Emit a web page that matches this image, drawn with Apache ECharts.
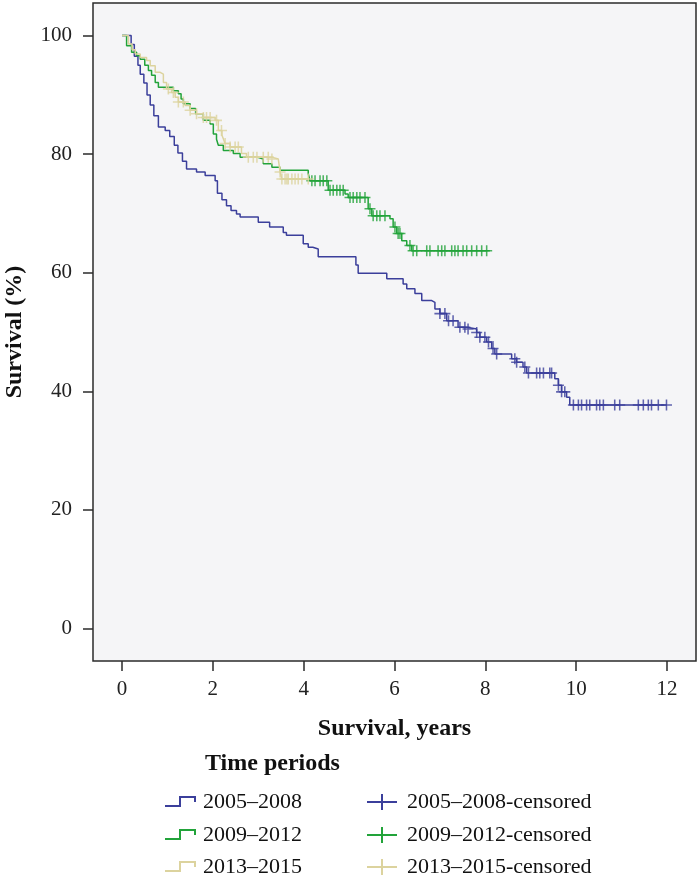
<!DOCTYPE html>
<html>
<head>
<meta charset="utf-8">
<script src="https://cdn.jsdelivr.net/npm/echarts@6/dist/echarts.min.js"></script>
<style>
html, body { margin: 0; padding: 0; background: #fff; }
#main { width: 700px; height: 881px; }
</style>
</head>
<body>
<div id="main"></div>
<script>
var FONT = '"Liberation Serif", "DejaVu Serif", serif';

var groupNames = ['2005\u20132008', '2009\u20132012', '2013\u20132015'];
var groupColors = ['#3b3f9b', '#22a33a', '#dcd39e'];
var xTicks = [0, 2, 4, 6, 8, 10, 12];
var yTicks = [0, 20, 40, 60, 80, 100];

// step points: time (years) where the curve drops, survival (%) after the drop
var t0508 = [0, 0.2, 0.27, 0.35, 0.4, 0.48, 0.55, 0.62, 0.7, 0.8, 0.95, 1.05, 1.15, 1.23, 1.33, 1.42, 1.64, 1.83, 2.05, 2.1, 2.2, 2.3, 2.4, 2.52, 2.6, 3.0, 3.25, 3.55, 3.62, 3.99, 4.1, 4.2, 4.32, 5.15, 5.2, 5.83, 6.19, 6.27, 6.45, 6.6, 6.82, 6.89, 7.0, 7.15, 7.4, 7.59, 7.81, 7.88, 8.03, 8.14, 8.21, 8.58, 8.69, 8.83, 8.91, 9.53, 9.61, 9.68, 9.79, 9.86, 12.0];
var s0508 = [100, 98.5, 96.5, 95, 93.5, 92, 90, 88.3, 86.5, 84.6, 84, 83, 81.5, 80.2, 78.8, 77.5, 77, 76.4, 75.5, 73.4, 72.3, 71.3, 70.5, 69.9, 69.4, 68.5, 67.7, 66.8, 66.3, 64.9, 64.3, 64.0, 62.7, 61.3, 59.9, 59.0, 58.1, 57.3, 56.5, 55.3, 55.0, 53.9, 53.1, 51.9, 50.8, 50.5, 49.9, 49.1, 48.3, 47.2, 46.3, 45.5, 44.9, 44.1, 43.1, 42.1, 41.0, 39.9, 39.0, 37.7, 37.7];

var t0912 = [0, 0.1, 0.21, 0.32, 0.4, 0.5, 0.58, 0.65, 0.73, 0.8, 1.13, 1.24, 1.3, 1.35, 1.5, 1.62, 1.79, 1.94, 2.01, 2.08, 2.12, 2.23, 2.45, 2.6, 2.97, 3.11, 3.3, 3.48, 4.1, 4.14, 4.54, 4.91, 4.98, 5.42, 5.5, 5.9, 5.97, 6.05, 6.16, 6.27, 6.38, 8.1];
var s0912 = [100, 98.3, 97.2, 96.6, 96, 95, 94.1, 93.3, 92.1, 91.3, 90.7, 90.2, 89.3, 88.5, 87.7, 86.8, 85.7, 85.1, 83.4, 82.5, 81.5, 80.6, 80.1, 79.5, 79.2, 78.4, 77.8, 77.3, 76.7, 75.5, 73.9, 73.3, 72.7, 70.8, 69.6, 69.1, 67.7, 66.6, 65.4, 64.6, 63.7, 63.7];

var t1315 = [0, 0.14, 0.22, 0.29, 0.4, 0.54, 0.62, 0.73, 0.84, 0.91, 0.98, 1.09, 1.17, 1.24, 1.39, 1.5, 1.64, 1.79, 2.05, 2.12, 2.2, 2.23, 2.27, 2.38, 2.63, 2.74, 3.3, 3.44, 3.48, 3.52, 4.1];
var s1315 = [100, 98.6, 97.6, 96.9, 96.3, 95.8, 94.9, 93.8, 93.5, 92.1, 91.0, 90.4, 89.6, 88.8, 88.2, 87.4, 86.8, 86.2, 85.7, 84.0, 83.2, 82.6, 81.8, 81.2, 80.1, 79.5, 79.2, 78.9, 77.0, 75.8, 75.8];

// censoring times (years)
var c0508 = [7.0, 7.11, 7.19, 7.29, 7.44, 7.55, 7.62, 7.81, 7.88, 7.99, 8.07, 8.17, 8.25, 8.65, 8.69, 8.87, 8.95, 9.13, 9.2, 9.28, 9.42, 9.46, 9.61, 9.68, 9.75, 9.94, 10.05, 10.12, 10.23, 10.3, 10.45, 10.52, 10.6, 10.85, 10.96, 11.37, 11.48, 11.59, 11.66, 11.81, 11.99];
var c0912 = [4.18, 4.25, 4.36, 4.43, 4.51, 4.58, 4.65, 4.73, 4.8, 4.87, 5.02, 5.09, 5.17, 5.24, 5.35, 5.46, 5.53, 5.61, 5.68, 5.79, 6.01, 6.08, 6.12, 6.34, 6.41, 6.49, 6.71, 6.78, 6.96, 7.04, 7.11, 7.26, 7.33, 7.4, 7.51, 7.59, 7.7, 7.81, 7.92, 8.03];
var c1315 = [1.02, 1.13, 1.24, 1.35, 1.5, 1.64, 1.79, 1.86, 1.94, 2.08, 2.19, 2.27, 2.38, 2.49, 2.56, 2.78, 2.89, 2.97, 3.11, 3.22, 3.3, 3.48, 3.52, 3.59, 3.63, 3.66, 3.74, 3.81, 3.88, 3.96, 4.1];

var stepT = [t0508, t0912, t1315];
var stepS = [s0508, s0912, s1315];
var censT = [c0508, c0912, c1315];

function pairs(xs, ys) {
    var out = [];
    for (var i = 0; i < xs.length; i++) out.push([xs[i], ys[i]]);
    return out;
}

// survival at time t on a step curve
function survAt(ts, ss, t) {
    var v = ss[0];
    for (var i = 0; i < ts.length; i++) {
        if (ts[i] <= t) v = ss[i];
    }
    return v;
}

var plusPath = 'path://M4.3,0 h1.4 v4.3 h4.3 v1.4 h-4.3 v4.3 h-1.4 v-4.3 h-4.3 v-1.4 h4.3 z';

var series = [];
for (var g = 0; g < 3; g++) {
    series.push({
        name: groupNames[g],
        type: 'line',
        step: 'end',
        showSymbol: false,
        silent: true,
        z: 2 + g,
        lineStyle: { color: groupColors[g], width: 1.5 },
        data: pairs(stepT[g], stepS[g])
    });
}
for (var g = 0; g < 3; g++) {
    var pts = [];
    for (var k = 0; k < censT[g].length; k++) {
        pts.push([censT[g][k], survAt(stepT[g], stepS[g], censT[g][k])]);
    }
    series.push({
        name: groupNames[g] + '-censored',
        type: 'scatter',
        symbol: plusPath,
        symbolSize: 11,
        silent: true,
        z: 5 + g,
        itemStyle: { color: groupColors[g] },
        data: pts
    });
}

// legend drawn as graphic: step icon column and plus icon column
var legendEls = [{
    type: 'text', left: 205, top: 752,
    style: { text: 'Time periods', font: 'bold 24px ' + FONT, fill: '#111' }
}];
var rowY = [802, 835, 867];
for (var r = 0; r < 3; r++) {
    var y = rowY[r];
    legendEls.push({
        type: 'polyline',
        shape: { points: [[165, y + 4], [180, y + 4], [180, y - 5], [195, y - 5], [195, y]] },
        style: { stroke: groupColors[r], lineWidth: 2, fill: null }
    });
    legendEls.push({
        type: 'text', x: 203, y: y,
        style: { text: groupNames[r], font: '22px ' + FONT, fill: '#111', textVerticalAlign: 'middle' }
    });
    legendEls.push({
        type: 'line',
        shape: { x1: 367, y1: y, x2: 397, y2: y },
        style: { stroke: groupColors[r], lineWidth: 2 }
    });
    legendEls.push({
        type: 'line',
        shape: { x1: 382, y1: y - 8, x2: 382, y2: y + 8 },
        style: { stroke: groupColors[r], lineWidth: 2 }
    });
    legendEls.push({
        type: 'text', x: 407, y: y,
        style: { text: groupNames[r] + '-censored', font: '22px ' + FONT, fill: '#111', textVerticalAlign: 'middle' }
    });
}

var option = {
    backgroundColor: '#fff',
    animation: false,
    grid: {
        show: true,
        left: 93, top: 3, right: 4, bottom: 220,
        outerBoundsMode: 'none',
        containLabel: false,
        backgroundColor: '#f5f5f7',
        borderColor: '#2b2b2b',
        borderWidth: 1.5
    },
    xAxis: {
        type: 'value',
        min: -0.64, max: 12.64,
        name: 'Survival, years',
        nameLocation: 'middle',
        nameGap: 56,
        nameTextStyle: { fontFamily: FONT, fontWeight: 'bold', fontSize: 24, color: '#111' },
        axisLine: { show: false, onZero: false },
        splitLine: { show: false },
        axisTick: { show: true, customValues: xTicks, length: 10, lineStyle: { color: '#2b2b2b', width: 1.5 } },
        axisLabel: { customValues: xTicks, margin: 18, fontFamily: FONT, fontSize: 21, color: '#222' }
    },
    yAxis: {
        type: 'value',
        min: -5.5, max: 105.5,
        name: 'Survival (%)',
        nameLocation: 'middle',
        nameGap: 66,
        nameTextStyle: { fontFamily: FONT, fontWeight: 'bold', fontSize: 24, color: '#111' },
        axisLine: { show: false, onZero: false },
        splitLine: { show: false },
        axisTick: { show: true, customValues: yTicks, length: 10, lineStyle: { color: '#2b2b2b', width: 1.5 } },
        axisLabel: { customValues: yTicks, margin: 21, fontFamily: FONT, fontSize: 21, color: '#222' }
    },
    graphic: legendEls,
    series: series
};

var myChart = echarts.init(document.getElementById('main'));
myChart.setOption(option);
</script>
</body>
</html>
